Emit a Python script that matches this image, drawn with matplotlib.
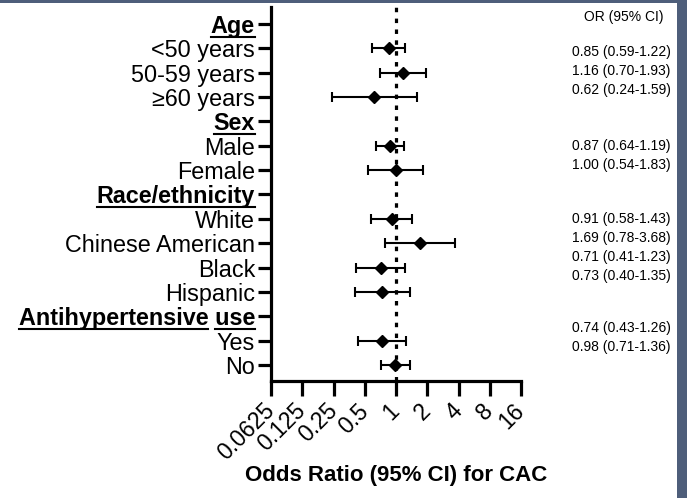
import numpy as np
import matplotlib
matplotlib.use("Agg")
from matplotlib import pyplot as plt
from matplotlib.patches import Rectangle
from matplotlib.lines import Line2D

plt.rcParams['font.family'] = ['Liberation Sans', 'DejaVu Sans']

# rows of the forest plot, top to bottom (headers have no estimate)
labels = ["Age", "<50 years", "50-59 years", "≥60 years",
          "Sex", "Male", "Female",
          "Race/ethnicity", "White", "Chinese American", "Black", "Hispanic",
          "Antihypertensive use", "Yes", "No"]
headers = ["Age", "Sex", "Race/ethnicity", "Antihypertensive use"]

odds = [np.nan, 0.85, 1.16, 0.62, np.nan, 0.87, 1.00,
        np.nan, 0.91, 1.69, 0.71, 0.73, np.nan, 0.74, 0.98]
ci_low = [np.nan, 0.59, 0.70, 0.24, np.nan, 0.64, 0.54,
          np.nan, 0.58, 0.78, 0.41, 0.40, np.nan, 0.43, 0.71]
ci_high = [np.nan, 1.22, 1.93, 1.59, np.nan, 1.19, 1.83,
           np.nan, 1.43, 3.68, 1.23, 1.35, np.nan, 1.26, 1.36]

xticks = [0.0625, 0.125, 0.25, 0.5, 1, 2, 4, 8, 16]
xticklabels = ["0.0625", "0.125", "0.25", "0.5", "1", "2", "4", "8", "16"]

# right hand column, printed in blocks
or_header = "OR (95% CI)"
or_groups = [["0.85 (0.59-1.22)", "1.16 (0.70-1.93)", "0.62 (0.24-1.59)"],
             ["0.87 (0.64-1.19)", "1.00 (0.54-1.83)"],
             ["0.91 (0.58-1.43)", "1.69 (0.78-3.68)", "0.71 (0.41-1.23)", "0.73 (0.40-1.35)"],
             ["0.74 (0.43-1.26)", "0.98 (0.71-1.36)"]]
or_group_top_px = [52, 146, 219, 328]
or_line_px = 19

W, H = 687, 498
fig = plt.figure(figsize=(W / 100, H / 100), dpi=100)
fig.patch.set_facecolor("white")

ax = fig.add_axes([271 / W, 1 - 381 / H, 250 / W, 374 / H])

odds = np.array(odds)
lo = np.array(ci_low)
hi = np.array(ci_high)
ypos = np.arange(len(labels))
ok = ~np.isnan(odds)

ax.axvline(1, color="black", lw=2.3, ls=(0, (1.4, 2.0)), zorder=1)
ax.errorbar(odds[ok], ypos[ok], xerr=[odds[ok] - lo[ok], hi[ok] - odds[ok]],
            fmt="D", color="black", ms=5.8, elinewidth=1.5, capsize=3.4,
            capthick=1.5, zorder=3)

ax.set_xscale("log", base=2)
ax.set_xlim(0.0625, 16)
ax.set_ylim(len(labels) - 0.34, -0.7)
ax.set_xticks(xticks)
ax.set_xticklabels(xticklabels, rotation=45, ha="right", va="center",
                   rotation_mode="anchor", fontsize=16.5)
ax.minorticks_off()
ax.set_yticks(ypos)
ax.set_yticklabels(labels, fontsize=16.8)
for t in ax.get_yticklabels():
    if t.get_text() in headers:
        t.set_fontweight("bold")

for s in ["top", "right"]:
    ax.spines[s].set_visible(False)
for s in ["left", "bottom"]:
    ax.spines[s].set_linewidth(2.3)
ax.tick_params(axis="y", length=9.5, width=2.3, pad=2)
ax.tick_params(axis="x", length=11, width=2.3, pad=8)

ax.set_xlabel("Odds Ratio (95% CI) for CAC", fontsize=16, fontweight="bold")
ax.xaxis.label.set_va("center")
ax.xaxis.set_label_coords(0.5, -(475 - 381) / 374)

# OR column
fig.text(624 / W, 1 - 17 / H, or_header, fontsize=10, ha="center", va="center")
for grp, top in zip(or_groups, or_group_top_px):
    for i, s in enumerate(grp):
        fig.text(572 / W, 1 - (top + i * or_line_px) / H, s, fontsize=10,
                 ha="left", va="center")

# dark frame stripes
fig.add_artist(Rectangle((0, 1 - 3 / H), 1, 3 / H, transform=fig.transFigure,
                         color="#4e5e7a", lw=0))
fig.add_artist(Rectangle((677 / W, 0), 10 / W, 1, transform=fig.transFigure,
                         color="#4e5e7a", lw=0))

# underline the header labels, word by word
fig.canvas.draw()
r = fig.canvas.get_renderer()
for t in ax.get_yticklabels():
    txt = t.get_text()
    if txt not in headers:
        continue
    bb = t.get_window_extent(r)
    fp = t.get_fontproperties()
    x = bb.x0
    yline = bb.y0 + 1.5
    words = txt.split(" ")
    for i, w in enumerate(words):
        ww = r.get_text_width_height_descent(w, fp, ismath=False)[0]
        fig.add_artist(Line2D([x / W, (x + ww) / W], [yline / H, yline / H],
                              transform=fig.transFigure, color="black", lw=1.5))
        if i < len(words) - 1:
            x += r.get_text_width_height_descent(w + " ", fp, ismath=False)[0]

fig.savefig("out.png", dpi=100)
